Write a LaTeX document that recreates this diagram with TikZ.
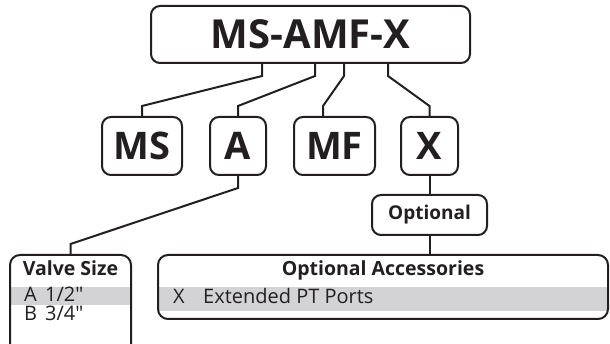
\documentclass[tikz,border=0pt]{standalone}
\usepackage{fontspec}
\newfontfamily\osans{Open Sans}
\usetikzlibrary{calc}
\definecolor{ink}{HTML}{231F20}
\definecolor{rowgray}{HTML}{D3D3D5}
\begin{document}
\begin{tikzpicture}[x=1pt,y=-1pt,
  box/.style={draw=ink, line width=2pt, rounded corners=9pt, inner sep=0pt, text=ink},
  conn/.style={draw=ink, line width=2pt, line join=miter},
  bigtxt/.style={font=\osans\bfseries\fontsize{40}{40}\selectfont},
  midtxt/.style={font=\osans\bfseries\fontsize{38}{38}\selectfont},
  headtxt/.style={font=\osans\bfseries\fontsize{19.5}{19.5}\selectfont, text=ink, inner sep=0pt},
  opttxt/.style={font=\osans\bfseries\fontsize{19}{19}\selectfont},
  rowtxt/.style={font=\osans\fontsize{20}{20}\selectfont, text=ink, inner sep=0pt},
]
\useasboundingbox (0,0) rectangle (610,344);
% main
\node[box, bigtxt, minimum width=319pt, minimum height=57pt] (main) at (310.5,34.5) {MS-AMF-X};
% code boxes
\node[box, midtxt, minimum width=80pt, minimum height=58pt] (ms) at (142,146) {MS};
\node[box, midtxt, minimum width=56pt, minimum height=58pt] (a) at (238,146) {A};
\node[box, midtxt, minimum width=81pt, minimum height=58pt] (mf) at (334.5,146) {MF};
\node[box, midtxt, minimum width=57pt, minimum height=58pt] (x) at (429.5,146) {X};
% optional
\node[box, opttxt, minimum width=115pt, minimum height=40pt] (opt) at (429.5,215) {Optional};
% tables
\fill[rowgray] (11,287) rectangle (130,305);
\fill[rowgray] (159,287) rectangle (607,311);
\node[box, rounded corners=10pt, minimum width=121pt, minimum height=100pt] (valve) at (70.5,305) {};
\node[box, rounded corners=10pt, minimum width=450pt, minimum height=64pt] (acc) at (383,287) {};
\node[headtxt, anchor=base] (vt) at (70.5,276) {Valve Size};
\node[headtxt, anchor=base] (at) at (383,276) {Optional Accessories};
\node[rowtxt, anchor=base west] (va) at (24,302) {A};
\node[rowtxt, anchor=base west] (vah) at (45,302) {1/2"};
\node[rowtxt, anchor=base west] (vb) at (24,321) {B};
\node[rowtxt, anchor=base west] (vbt) at (45,321) {3/4"};
\node[rowtxt, anchor=base west] (ax) at (173,304) {X};
\node[rowtxt, anchor=base west] (axt) at (203,304) {Extended PT Ports};
% connectors
\draw[conn] ($(main.south west)+(112,0)$) -- ++(0,12) -- ($(ms.north)+(0,-10)$) -- (ms.north);
\draw[conn] ($(main.south west)+(165,0)$) -- ++(0,12) -- ($(a.north)+(0,-10)$) -- (a.north);
\draw[conn] ($(main.south west)+(194,0)$) -- ++(0,12) -- ($(mf.north)+(-11.5,-10)$) -- ($(mf.north)+(-11.5,0)$);
\draw[conn] ($(main.south west)+(238,0)$) -- ++(0,12) -- ($(x.north)+(0,-10)$) -- (x.north);
\draw[conn] (a.south) -- ++(0,12) -- ($(valve.north)+(0,-10)$) -- (valve.north);
\draw[conn] (x.south) -- (opt.north);
\draw[conn] (opt.south) -- (opt.south |- acc.north);
\end{tikzpicture}
\end{document}
